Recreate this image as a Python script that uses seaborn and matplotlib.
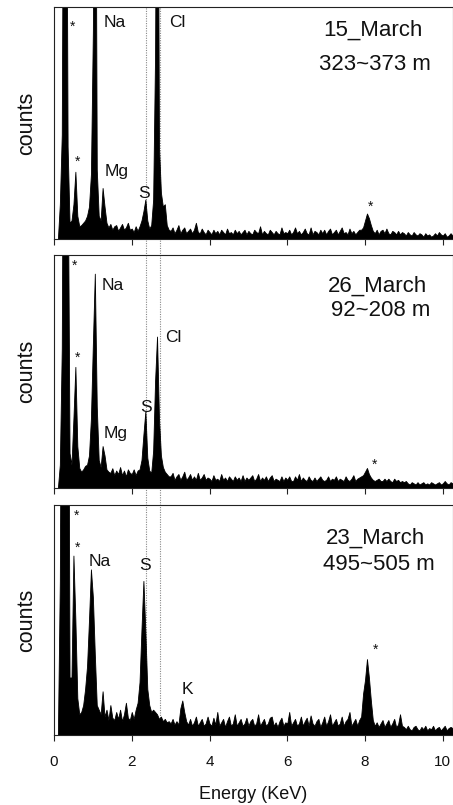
import numpy as np
import pandas as pd
import matplotlib
matplotlib.use("Agg")
import matplotlib.pyplot as plt
import matplotlib.transforms as mtransforms
from matplotlib.lines import Line2D
import seaborn as sns

# ---------------- data (relative counts, % of panel height; channel step 0.05 keV) -------------
E_START = 0.0
E_STEP = 0.05

counts_15mar = [
    0, 0, 0, 15, 45, 250, 250, 40, 7, 8, 15, 29, 10, 5.5, 6, 7, 8, 10, 14, 28,
    90, 250, 30, 10, 8, 22, 14, 7, 5, 6.5, 4, 5.5, 6, 3.5, 5, 6.5, 4, 5, 7, 4,
    4.5, 3, 5.5, 3.5, 5.5, 8, 12, 17, 8, 4.5, 6, 17, 80, 250, 40, 20, 14, 15, 6, 4,
    3.5, 5, 2.5, 4, 6, 2.5, 4, 5, 2.5, 3.5, 4.5, 2.5, 4, 7, 3, 2.5, 4.5, 3, 2, 4,
    3, 2, 4, 2.5, 3.5, 2, 4, 3, 2, 4.5, 2.5, 3, 2, 4, 2.5, 3.5, 2, 3, 4, 2,
    3.5, 2.5, 2, 4, 3, 2.5, 5.5, 2, 3.5, 2.5, 2, 4, 3, 2, 3.5, 2.5, 2, 5, 2.5, 3,
    2.5, 4, 2, 3, 5, 2.5, 3.5, 2, 3, 4.5, 2.5, 2, 5, 2, 3.5, 3, 2, 4, 2.5, 4,
    2, 3.5, 4.5, 2, 3, 4, 2, 3.5, 5, 2.5, 3, 2, 4.5, 2.5, 3.5, 2, 3, 4, 4, 5,
    8, 11, 9, 6, 3.5, 2.5, 4, 2, 3.5, 4, 2.5, 4.5, 2.5, 2, 3.5, 3, 2, 3.5, 2, 3,
    2.5, 1.5, 3, 2, 1.5, 3, 2, 1.5, 2.5, 2, 1, 2.5, 1.5, 2, 1, 1.5, 2.5, 1.5, 3, 2,
    1.5, 2.5, 1, 1.5, 2.5, 1.5,
]

counts_26mar = [
    0, 0, 0, 10, 60, 250, 250, 150, 15, 10, 30, 52, 18, 8.6, 7, 8, 9.5, 10, 14, 30,
    62, 92, 35, 12, 9, 18, 14, 8, 7, 6.5, 8.5, 5.5, 7.5, 6, 9, 5.5, 7.5, 5, 8, 6.5,
    6, 8, 5.5, 7.5, 8, 12, 23, 33, 13, 7.5, 6.5, 16, 46, 65, 30, 14, 9, 7, 6, 5,
    5, 6.5, 3.5, 5, 6, 3.5, 5, 7, 3.5, 4.5, 6, 3.5, 5, 3.5, 6.5, 3.5, 4.5, 6, 3.5, 4.5,
    4, 3, 5.5, 3.5, 4, 3, 6, 3.5, 4.5, 3, 5, 4, 3, 5, 3.5, 4.5, 3, 5.5, 3, 4.5,
    3.5, 4.5, 5.5, 3, 4, 6, 3, 4.5, 3.5, 5, 3, 4.5, 5.5, 3, 4, 3.5, 3, 5, 3, 4.5,
    3.5, 5, 3, 3, 5, 3.5, 6, 3, 4.5, 3.5, 3, 5, 3.5, 3, 4.5, 3, 4, 5, 3.5, 3,
    3.5, 5, 3, 4, 3.5, 5, 3, 4, 3.5, 3, 5, 3.5, 3, 4, 5.5, 3, 4, 4.5, 5, 5.5,
    7, 8.6, 6, 4.5, 3.5, 3, 3.5, 4, 3, 3, 4, 3, 4, 3, 2.5, 4, 3, 3.5, 2.5, 3,
    2.5, 3, 2, 1.5, 2.5, 2, 1.5, 2.5, 1.5, 2, 2.5, 1.5, 2, 1.5, 2.5, 2, 1.5, 2, 2.5, 1.5,
    2, 3, 2, 1.5, 2.5, 2,
]

counts_23mar = [
    0, 0, 0, 67, 250, 250, 250, 250, 25, 25, 78, 50, 16, 9, 10, 13, 20, 30, 50, 72,
    60, 35, 13, 11, 9, 19, 8, 11, 6.5, 13, 7.5, 6.5, 10, 7, 11, 6, 9, 14, 7.5, 6.5,
    10, 7, 11, 14, 23, 46, 67, 45, 20, 13, 10, 11, 10, 9, 7, 8, 6, 7, 5.5, 6,
    5, 7, 4.5, 6, 4.5, 11.6, 15, 10, 6, 4.5, 7, 4, 5.5, 8, 4, 5.5, 7, 4, 5, 8,
    5, 4, 7.5, 4.5, 10, 4, 5.5, 7, 3.5, 6, 8, 4, 5, 9, 4, 5.5, 7, 4, 5, 7.5,
    4, 6, 7, 4, 5, 9, 4, 5.5, 7, 4, 5, 7.5, 8, 4, 5.5, 3.5, 6, 7.5, 4, 5.5,
    5, 10, 4, 5.5, 7, 4, 5, 8, 4, 6, 7.5, 4, 8.5, 5, 4, 6, 7, 3.5, 5.5, 8,
    4, 6, 9, 4, 5.5, 7, 4, 5, 8, 4, 6, 7, 10, 4, 5.5, 7, 4, 6.5, 8, 18,
    24, 33, 25, 15, 6.5, 4, 5.5, 3.5, 5, 6.5, 3.5, 5, 6.5, 3.5, 5, 7, 3.5, 4.5, 9, 4,
    3.5, 2.5, 4, 2.5, 2, 3.5, 4, 2.5, 2, 3.5, 2.5, 4, 2, 3, 2.5, 4, 2, 3, 3.5, 2,
    3, 4, 2, 3, 3.5, 3,
]

panel_dates = ["15_March", "26_March", "23_March"]
panel_depths = ["323~373 m", "92~208 m", "495~505 m"]

# element labels per panel: (text, energy keV, height %)
labels_15mar = [("Na", 1.55, 94), ("Cl", 3.17, 94), ("Mg", 1.61, 29.7), ("S", 2.32, 20.4)]
labels_26mar = [("Na", 1.51, 87.8), ("Cl", 3.08, 65.4), ("S", 2.36, 35.3), ("Mg", 1.59, 24.2)]
labels_23mar = [("Na", 1.18, 76.1), ("S", 2.35, 74.3), ("K", 3.44, 20.7)]

# asterisks (unidentified / substrate peaks): (energy, height %)
stars_15mar = [(0.48, 93.2), (0.61, 34.8), (8.15, 15.4)]
stars_26mar = [(0.54, 97.1), (0.60, 57.5), (8.25, 11.6)]
stars_23mar = [(0.58, 97.1), (0.60, 83.0), (8.28, 38.7)]

ref_lines_kev = [2.36, 2.73]
xticks = [0, 2, 4, 6, 8, 10]

# ---------------- style -------------
sns.set_style("ticks")
plt.rcParams["font.family"] = ["Liberation Sans", "DejaVu Sans"]
plt.rcParams["text.color"] = "#111111"

fig = plt.figure(figsize=(4.53, 8.05), dpi=100)
rects = [
    [0.1192, 0.7031, 0.8797, 0.2882],
    [0.1192, 0.3938, 0.8797, 0.2894],
    [0.1192, 0.0870, 0.8797, 0.2857],
]
all_counts = [counts_15mar, counts_26mar, counts_23mar]
all_labels = [labels_15mar, labels_26mar, labels_23mar]
all_stars = [stars_15mar, stars_26mar, stars_23mar]
title_pos = [
    [(8.21, 91.2), (8.25, 76.1)],
    [(8.32, 87.6), (8.40, 77.3)],
    [(8.28, 86.6), (8.35, 75.3)],
]


def put(ax, x, y, s, fs, frac):
    ax.annotate(s, xy=(x, y), xytext=(0, -frac * fs), textcoords="offset points",
                ha="center", va="baseline", fontsize=fs, color="#111111")


axes = []
for i in range(3):
    ax = fig.add_axes(rects[i])
    ax.set_facecolor("none")
    vals = all_counts[i]
    energy = np.round(E_START + E_STEP * np.arange(len(vals)), 3)
    df = pd.DataFrame({"energy": energy, "counts": vals})
    sns.histplot(data=df, x="energy", weights="counts", binwidth=E_STEP,
                 binrange=(energy[0] - E_STEP / 2, energy[-1] + E_STEP / 2),
                 element="poly", fill=True, color="black", alpha=1.0,
                 linewidth=0.6, ax=ax)
    ax.set_xlim(0, 10.25)
    ax.set_ylim(0, 100)
    ax.set_yticks([])
    ax.set_xticks(xticks)
    for sp in ax.spines.values():
        sp.set_visible(True)
        sp.set_linewidth(0.8)
        sp.set_color("#222222")
        sp.set_zorder(3)
    ax.tick_params(axis="x", direction="out", length=4, width=0.8, colors="#222222",
                   labelsize=11, pad=10.5, labelcolor="#111111")
    ax.set_ylabel("counts", fontsize=15.5, color="#111111")
    ax.yaxis.set_label_coords(-0.0414, 0.5)
    if i < 2:
        ax.tick_params(axis="x", labelbottom=False)
        ax.set_xlabel("")
    else:
        ax.set_xlabel("Energy (KeV)", fontsize=13, labelpad=12.5, color="#111111")

    for s, x, y in all_labels[i]:
        put(ax, x, y, s, 12.5, 0.36)
    for x, y in all_stars[i]:
        put(ax, x, y, "*", 10, 0.57)
    (x1, y1), (x2, y2) = title_pos[i]
    put(ax, x1, y1, panel_dates[i], 16, 0.36)
    put(ax, x2, y2, panel_depths[i], 16, 0.36)
    axes.append(ax)

# dotted reference lines running through all panels
trans = mtransforms.blended_transform_factory(axes[2].transData, fig.transFigure)
y_bot = rects[2][1]
y_top = rects[0][1] + rects[0][3]
for xv in ref_lines_kev:
    fig.add_artist(Line2D([xv, xv], [y_bot, y_top], transform=trans, color="#888888",
                          linewidth=0.8, linestyle=(0, (1, 1.2)), zorder=-1))

fig.savefig("out.png", dpi=100)
